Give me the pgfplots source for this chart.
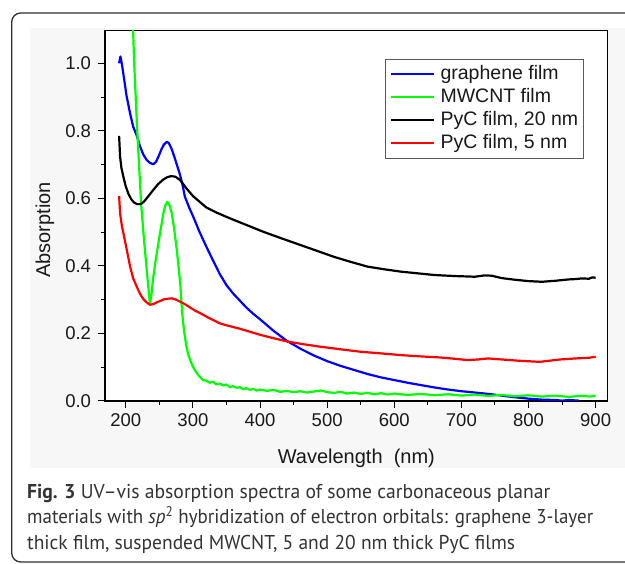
\documentclass[border=0pt]{standalone}
\usepackage{fontspec}
\usepackage{graphicx}
\usepackage{pgfplots}
\pgfplotsset{compat=1.18}
\setmainfont{Liberation Sans}
\newfontfamily\capfont{PT Sans}
\definecolor{frameline}{HTML}{303030}
\definecolor{figbg}{HTML}{F7F7F7}
\definecolor{captext}{HTML}{333333}
\definecolor{cblue}{HTML}{0000FF}
\definecolor{cgreen}{HTML}{00FF00}
\definecolor{cred}{HTML}{FF0000}
\newlength{\capw}
\newcommand{\capfs}{\capfont\fontsize{20bp}{22bp}\selectfont}
\newcommand{\lineA}{\textbf{Fig. 3} UV–vis absorption spectra of some carbonaceous planar}
\newcommand{\lineB}{materials with \textit{sp}\textsuperscript{2} hybridization of electron orbitals: graphene 3-layer}
\newcommand{\lineC}{thick film, suspended MWCNT, 5 and 20 nm thick PyC films}
\begin{document}
\settowidth{\capw}{\capfs\lineA}%
\pgfmathsetmacro{\capxA}{523*1.00375/\capw}%
\settowidth{\capw}{\capfs\lineB}%
\pgfmathsetmacro{\capxB}{566*1.00375/\capw}%
\settowidth{\capw}{\capfs\lineC}%
\pgfmathsetmacro{\capxC}{488*1.00375/\capw}%
\begin{tikzpicture}
\path[use as bounding box] (0bp,0bp) rectangle (625bp,564bp);
\clip (0bp,0bp) rectangle (625bp,564bp);
\fill[white] (0bp,0bp) rectangle (625bp,564bp);
\fill[figbg] (30bp,96bp) rectangle (625bp,536bp);
\draw[frameline, line width=1.3bp, rounded corners=9bp] (11.7bp,2bp) rectangle (660bp,551bp);
\begin{axis}[
  at={(105bp,163bp)}, anchor=south west,
  scale only axis, width=502.7bp, height=370.3bp,
  xmin=169, xmax=918, ymin=0, ymax=1.0965,
  axis background/.style={fill=white},
  axis line style={line width=1.2bp, black},
  xtick={200,300,400,500,600,700,800,900},
  ytick={0,0.2,0.4,0.6,0.8,1.0},
  minor x tick num=1, minor y tick num=1,
  xtick pos=bottom, ytick pos=left,
  tick align=outside,
  major tick length=6.5bp, minor tick length=4bp,
  every tick/.style={line width=1bp, black},
  /pgf/number format/assume math mode=true,
  ticklabel style={font=\fontsize{18.5bp}{20bp}\selectfont, text=black!90},
  yticklabel style={xshift=-4bp, /pgf/number format/.cd, fixed, fixed zerofill, precision=1},
  xticklabel style={yshift=-3bp, /pgf/number format/.cd, fixed, precision=0, 1000 sep={}},
  xlabel={Wavelength\ \ (nm)},
  ylabel={Absorption},
  label style={font=\fontsize{20bp}{22bp}\selectfont, text=black!90},
  xlabel style={at={(axis description cs:0.5,0)}, anchor=base, yshift=-62bp},
  ylabel style={at={(axis description cs:-0.1194,0.462)}, anchor=center, rotate=0},
  legend style={at={(rel axis cs:0.557,0.9228)}, anchor=north west,
    draw=black!65, line width=0.7bp, fill=white,
    inner xsep=5bp, inner ysep=6bp, column sep=5bp, row sep=5.5bp,
    nodes={inner xsep=0bp, inner ysep=0bp, text height=13.5bp, text depth=4bp,
      font=\fontsize{19.5bp}{21bp}\selectfont, text=black!90}},
  legend cell align=left,
  legend image code/.code={\draw[#1] (0bp,0bp) -- (43bp,0bp);},
  every axis plot/.append style={line width=2.2bp, line join=round},
]
\addplot[cblue] coordinates {
(190,1.0) (192,1.02) (194,1.0) (197,0.96) (201,0.905) (206,0.855) (211,0.812)
(216,0.788) (221,0.755) (226,0.73) (231,0.714) (236,0.705) (241,0.701)
(245,0.708) (249,0.725) (253,0.745) (257,0.76) (261,0.767) (264,0.764)
(268,0.748) (272,0.725) (276,0.7) (280,0.675) (284,0.645) (288,0.605)
(295,0.57) (300,0.548) (310,0.5) (320,0.457) (330,0.416) (340,0.376)
(350,0.343) (360,0.318) (370,0.297) (380,0.276) (390,0.258) (400,0.242)
(420,0.208) (440,0.178) (460,0.155) (480,0.135) (500,0.118) (520,0.104)
(540,0.092) (560,0.08) (580,0.07) (600,0.062) (620,0.054) (640,0.047)
(660,0.04) (680,0.034) (700,0.029) (720,0.025) (740,0.021) (760,0.016)
(780,0.011) (800,0.007) (820,0.004) (840,0.003) (850,0.001) (860,0.003) (875,0.001)
};
\addlegendentry{graphene film}
\addplot[cgreen] coordinates {
(204,1.5) (212.5,1.0) (217,0.8) (222.8,0.585) (227,0.48) (232,0.37) (236,0.285)
(238.5,0.32) (241,0.368) (246,0.437) (251,0.497) (256,0.556) (259,0.58)
(262,0.59) (265,0.58) (268.5,0.556) (272,0.51) (276,0.447) (281,0.35)
(284,0.26) (287,0.205) (290,0.165) (293,0.138) (297,0.115) (301,0.098)
(305,0.085) (310,0.072) (315,0.062)
(320,0.060) (325,0.054) (330,0.057) (335,0.049) (340,0.052) (345,0.046)
(350,0.049) (355,0.041) (360,0.044) (365,0.039) (370,0.041) (375,0.035)
(380,0.038) (385,0.033) (390,0.036) (395,0.031) (400,0.034) (410,0.030)
(420,0.033) (430,0.027) (440,0.030) (450,0.026) (460,0.029) (470,0.025)
(480,0.028) (490,0.031) (495,0.029) (500,0.026) (510,0.024) (520,0.027)
(530,0.022) (540,0.025) (550,0.021) (560,0.024) (570,0.020) (580,0.023)
(590,0.019) (600,0.022) (620,0.018) (640,0.021) (660,0.017) (680,0.020)
(700,0.016) (720,0.019) (740,0.015) (760,0.018) (780,0.014) (800,0.017)
(820,0.013) (840,0.016) (860,0.012) (880,0.016) (890,0.013) (900,0.015)
};
\addlegendentry{MWCNT film}
\addplot[black] coordinates {
(190,0.785) (191.5,0.723) (193.5,0.69) (196.4,0.664) (200,0.635) (204,0.613)
(208,0.598) (212,0.588) (217,0.583) (222,0.583) (227,0.59) (233,0.605)
(241,0.625) (248,0.642) (256,0.656) (262,0.663) (268,0.666) (274,0.664)
(281,0.654) (291,0.628) (300,0.607) (310,0.59) (320,0.573) (335,0.558)
(355,0.541) (380,0.521) (405,0.501) (430,0.483) (460,0.462) (490,0.441)
(510,0.427) (535,0.412) (560,0.398) (585,0.39) (610,0.383) (635,0.378)
(660,0.373) (690,0.37) (720,0.368) (735,0.372) (745,0.371) (760,0.364)
(780,0.359) (800,0.355) (820,0.353) (840,0.356) (850,0.358) (860,0.36)
(870,0.361) (880,0.363) (890,0.362) (895,0.366) (900,0.365)
};
\addlegendentry{PyC film, 20 nm}
\addplot[cred] coordinates {
(190,0.607) (191.5,0.556) (194,0.52) (196.4,0.497) (201.5,0.447) (206.4,0.398)
(211,0.363) (216,0.34) (221,0.318) (226,0.302) (231,0.292) (236,0.285)
(241,0.287) (246,0.292) (251,0.296) (257,0.301) (263,0.303) (269,0.304)
(275,0.3) (281,0.294) (287,0.288) (295,0.278) (303,0.268) (311,0.26)
(320,0.25) (330,0.24) (340,0.23) (350,0.224) (360,0.219) (370,0.214)
(385,0.205) (400,0.196) (420,0.186) (441,0.176) (465,0.168) (489,0.161)
(520,0.153) (549,0.146) (580,0.141) (609,0.136) (640,0.132) (668,0.129)
(690,0.125) (710,0.121) (725,0.123) (740,0.126) (760,0.123) (787,0.119)
(817,0.116) (830,0.119) (847,0.123) (870,0.126) (890,0.128) (900,0.131)
};
\addlegendentry{PyC film, 5 nm}
\end{axis}
\begin{scope}[every node/.style={anchor=base west, inner sep=0pt, text=captext, font=\capfs}]
\node at (27bp,65bp) {\scalebox{\capxA}[1]{\lineA}};
\node at (27bp,40bp) {\scalebox{\capxB}[1]{\lineB}};
\node at (27bp,15bp) {\scalebox{\capxC}[1]{\lineC}};
\end{scope}
\end{tikzpicture}
\end{document}
